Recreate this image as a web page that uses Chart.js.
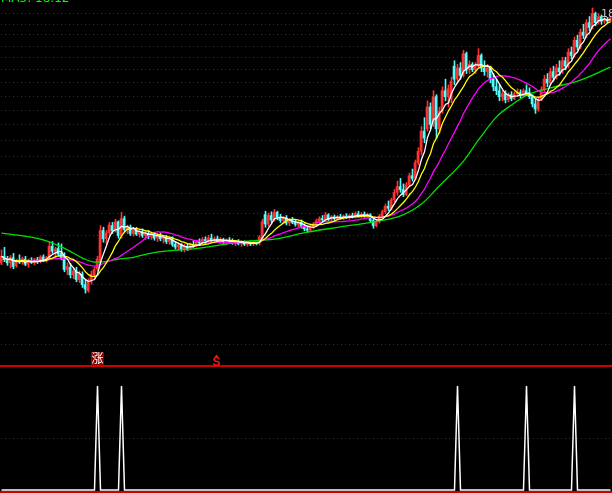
<!DOCTYPE html>
<html>
<head>
<meta charset="utf-8">
<script src="https://cdn.jsdelivr.net/npm/chart.js@4.4.1/dist/chart.umd.min.js"></script>
<style>
  html, body { margin: 0; padding: 0; background: #000; }
  #wrap { position: relative; width: 612px; height: 493px; background: #000; overflow: hidden; }
  canvas { position: absolute; left: 0; background: #000; }
  #price { top: 0; }
  #ind { top: 367px; }
</style>
</head>
<body>
<div id="wrap">
  <canvas id="price" width="612" height="367"></canvas>
  <canvas id="ind" width="612" height="126"></canvas>
</div>
<script>
// Daily bars, oldest first
const openP = [
  7.52,7.70,7.58,7.52,7.66,7.44,7.58,7.55,7.62,7.48,
  7.57,7.52,7.60,7.55,7.68,7.58,7.66,7.98,7.84,7.92,
  7.78,7.66,7.34,7.40,7.20,7.30,7.08,7.22,6.95,6.80,
  7.04,7.20,7.36,7.55,8.45,8.20,8.38,8.60,8.44,8.72,
  8.30,8.82,8.48,8.55,8.36,8.46,8.34,8.42,8.30,8.36,
  8.26,8.34,8.22,8.30,8.20,8.24,8.12,8.20,8.04,7.96,
  8.02,7.90,7.98,7.92,8.04,8.00,8.12,8.08,8.18,8.10,
  8.22,8.14,8.20,8.14,8.18,8.10,8.16,8.12,8.08,8.12,
  8.06,8.10,8.04,8.08,8.05,8.09,8.06,8.22,8.95,8.65,
  8.92,8.78,9.02,8.86,8.76,8.84,8.68,8.74,8.70,8.64,
  8.70,8.58,8.50,8.46,8.56,8.64,8.74,8.82,8.78,8.94,
  8.80,8.88,8.82,8.88,8.84,8.90,8.86,8.92,8.88,8.98,
  8.92,8.96,8.90,8.94,8.76,8.60,8.72,8.90,9.04,9.22,
  9.16,9.44,9.70,9.90,9.80,9.62,9.96,10.30,10.20,10.80,
  11.25,12.10,12.20,13.20,12.40,13.70,12.20,13.00,14.00,13.70,
  13.60,15.30,14.60,15.20,14.80,16.00,15.10,15.40,15.10,15.30,
  15.90,15.20,15.00,15.20,14.60,14.20,14.00,13.70,13.85,13.55,
  13.80,13.60,13.85,13.90,13.75,14.00,13.90,13.70,13.35,13.10,
  13.55,14.05,14.60,14.40,15.00,14.70,15.20,15.00,15.60,15.30,
  16.10,15.90,16.80,16.40,17.30,17.10,17.90,17.60,18.50,17.90,
  18.30,18.00,18.10,18.00
];
const highP = [
  7.88,7.95,7.70,7.72,7.78,7.62,7.74,7.68,7.70,7.62,
  7.66,7.64,7.67,7.72,7.74,7.70,8.10,8.12,7.96,8.08,
  8.05,7.80,7.52,7.50,7.38,7.40,7.30,7.28,7.08,7.10,
  7.30,7.40,7.70,8.60,8.55,8.45,8.70,8.70,8.80,8.75,
  9.02,8.90,8.62,8.62,8.52,8.55,8.48,8.50,8.42,8.44,
  8.40,8.40,8.36,8.38,8.30,8.30,8.26,8.26,8.12,8.08,
  8.06,8.04,8.06,8.08,8.14,8.16,8.20,8.24,8.26,8.30,
  8.34,8.26,8.28,8.24,8.22,8.20,8.24,8.20,8.16,8.18,
  8.14,8.14,8.12,8.14,8.12,8.16,8.30,8.80,9.06,9.00,
  9.04,9.12,9.06,8.96,8.90,8.92,8.82,8.86,8.80,8.74,
  8.78,8.66,8.60,8.62,8.70,8.80,8.88,8.92,9.02,8.98,
  8.92,8.94,8.92,8.96,8.94,8.98,8.96,9.00,9.04,9.06,
  9.02,9.04,9.00,8.98,8.84,8.80,8.96,9.10,9.30,9.40,
  9.50,9.80,10.10,10.20,10.00,10.05,10.40,10.55,10.90,11.40,
  12.30,12.70,13.50,13.40,14.00,13.80,13.20,14.20,14.60,14.30,
  14.70,15.60,15.40,15.50,16.20,16.10,15.60,15.50,15.50,16.30,
  16.00,15.60,15.40,15.30,14.90,14.60,14.30,14.00,14.00,13.90,
  13.95,13.95,14.10,14.05,14.10,14.30,14.15,13.80,13.60,13.70,
  14.20,14.80,14.90,15.20,15.30,15.40,15.60,15.80,15.80,16.30,
  16.40,17.00,17.10,17.50,17.80,18.10,18.30,18.88,18.60,18.50,
  18.40,18.30,18.25,18.30
];
const lowP = [
  7.47,7.55,7.45,7.38,7.36,7.40,7.50,7.48,7.44,7.40,
  7.50,7.46,7.50,7.52,7.55,7.54,7.62,7.78,7.66,7.70,
  7.60,7.28,7.20,7.12,7.10,7.02,7.00,6.88,6.74,6.76,
  6.96,7.10,7.30,7.50,8.10,8.05,8.30,8.36,8.40,8.22,
  8.22,8.40,8.35,8.30,8.28,8.30,8.25,8.24,8.18,8.20,
  8.18,8.16,8.12,8.14,8.08,8.06,8.04,7.98,7.90,7.86,
  7.84,7.82,7.86,7.88,7.96,7.96,8.02,8.04,8.06,8.08,
  8.10,8.08,8.10,8.06,8.06,8.04,8.08,8.04,8.00,8.02,
  7.98,8.00,7.98,8.00,8.00,8.02,8.02,8.18,8.55,8.58,
  8.70,8.74,8.78,8.70,8.68,8.62,8.60,8.66,8.58,8.56,
  8.52,8.44,8.40,8.42,8.50,8.58,8.68,8.72,8.74,8.76,
  8.74,8.76,8.78,8.80,8.78,8.82,8.80,8.84,8.84,8.86,
  8.84,8.86,8.84,8.70,8.52,8.56,8.68,8.84,8.98,9.08,
  9.10,9.36,9.60,9.70,9.55,9.58,9.90,10.10,10.15,10.70,
  11.10,11.60,12.10,12.20,12.30,11.80,12.00,12.90,13.50,13.20,
  13.40,14.30,14.40,14.60,14.70,14.90,14.90,15.00,14.90,15.20,
  15.00,14.80,14.70,14.40,14.00,13.80,13.50,13.50,13.40,13.45,
  13.50,13.55,13.70,13.65,13.70,13.80,13.60,13.20,12.90,13.00,
  13.50,13.90,14.20,14.30,14.50,14.60,14.80,14.90,15.10,15.20,
  15.70,15.80,16.20,16.30,16.90,16.95,17.40,17.50,17.70,17.80,
  17.80,17.85,17.90,17.95
];
const closeP = [
  7.70,7.60,7.52,7.66,7.42,7.58,7.55,7.63,7.48,7.57,
  7.53,7.60,7.55,7.68,7.58,7.66,7.98,7.84,7.90,7.76,
  7.66,7.34,7.42,7.20,7.30,7.08,7.22,6.95,6.84,7.04,
  7.22,7.34,7.62,8.45,8.20,8.38,8.62,8.44,8.72,8.30,
  8.82,8.48,8.55,8.36,8.46,8.34,8.42,8.30,8.36,8.26,
  8.34,8.22,8.30,8.20,8.24,8.12,8.20,8.04,7.96,8.02,
  7.90,7.98,7.92,8.04,8.00,8.12,8.08,8.18,8.10,8.22,
  8.14,8.20,8.14,8.18,8.10,8.16,8.12,8.08,8.12,8.06,
  8.10,8.04,8.08,8.05,8.09,8.06,8.25,8.72,8.65,8.92,
  8.78,9.02,8.86,8.76,8.84,8.68,8.74,8.70,8.64,8.70,
  8.58,8.50,8.46,8.56,8.64,8.74,8.82,8.78,8.94,8.80,
  8.88,8.82,8.88,8.84,8.90,8.86,8.92,8.88,8.98,8.92,
  8.96,8.90,8.94,8.76,8.60,8.72,8.90,9.04,9.22,9.16,
  9.44,9.70,9.90,9.80,9.62,9.96,10.30,10.20,10.80,11.25,
  12.10,11.80,13.20,12.40,13.70,12.20,13.00,14.00,13.70,14.10,
  14.50,14.60,15.20,14.80,16.00,15.10,15.40,15.10,15.30,15.90,
  15.20,15.00,15.20,14.60,14.20,14.00,13.70,13.85,13.55,13.80,
  13.60,13.85,13.90,13.75,14.00,13.90,13.70,13.35,13.10,13.55,
  14.05,14.60,14.40,15.00,14.70,15.20,15.00,15.60,15.30,16.10,
  15.90,16.80,16.40,17.30,17.10,17.90,17.60,18.50,17.90,18.30,
  18.00,18.10,18.00,18.20
];

// Long moving average, sampled at these bars
const longMaBars = [0,10,16,22,27,31,33,39,44,50,66,80,91,102,113,124,133,140,146,154,159,165,170,176,183,193,203];
const longMaVals = [8.37,8.25,8.11,7.88,7.65,7.54,7.54,7.62,7.67,7.79,7.93,8.11,8.19,8.40,8.56,8.72,8.91,9.30,9.93,10.86,11.72,12.74,13.30,13.84,14.14,14.55,15.25];

// Horizontal price grid
const gridPrices = [5.60,6.28,6.96,7.64,8.32,9.00,9.68,10.36,11.04,11.72,12.40,13.08,13.76,14.44,15.12,15.80,16.48,17.16,17.84,18.52];

// Signal bars for the lower panel, and the markers above the divider
const signalBars = [32, 40, 152, 175, 191];
const riseMarkBar = 32;
const riseMarkText = '涨';
const sMarkBar = 72;
const sMarkText = 'S';

const N = closeP.length;
const idx = closeP.map((_, i) => i);
const UP = '#ff3232', DOWN = '#54fcfc';
const barColor = idx.map(i => closeP[i] >= openP[i] ? UP : DOWN);

function movingAverage(src, n) {
  return src.map((_, i) => {
    const s = Math.max(0, i - n + 1);
    let sum = 0;
    for (let k = s; k <= i; k++) sum += src[k];
    return sum / (i - s + 1);
  });
}
const ma5 = movingAverage(closeP, 5);
const ma10 = movingAverage(closeP, 10);
const ma20 = movingAverage(closeP, 20);

const maxHigh = Math.max(...highP);
const maxHighBar = highP.indexOf(maxHigh);

function dotted(ctx, y, x0, x1) {
  ctx.save();
  ctx.strokeStyle = '#a80000';
  ctx.lineWidth = 1;
  ctx.setLineDash([1, 3]);
  ctx.beginPath();
  ctx.moveTo(x0, y);
  ctx.lineTo(x1, y);
  ctx.stroke();
  ctx.restore();
}

const priceDecor = {
  id: 'priceDecor',
  beforeDatasetsDraw(chart) {
    const { ctx, chartArea: a, scales } = chart;
    gridPrices.forEach(p => {
      const py = Math.round(scales.y.getPixelForValue(p)) + 0.5;
      dotted(ctx, py, a.left + 1, a.right);
    });
  },
  afterDatasetsDraw(chart) {
    const { ctx, scales } = chart;
    const xs = scales.xw;
    ctx.save();
    // panel divider
    ctx.fillStyle = '#d00000';
    ctx.fillRect(0, 365, 612, 2);

    // rise marker: white character on a dark red tile
    const rx = xs.getPixelForValue(riseMarkBar);
    ctx.fillStyle = '#8c0000';
    ctx.fillRect(Math.round(rx - 6.5), 352, 13, 13);
    ctx.fillStyle = '#ffffff';
    ctx.font = '12px "Noto Sans CJK SC"';
    ctx.textAlign = 'center';
    ctx.textBaseline = 'middle';
    ctx.fillText(riseMarkText, rx, 358.5);

    // S marker with its small arrow head
    const sx = xs.getPixelForValue(sMarkBar) - 1;
    ctx.fillStyle = '#f01818';
    ctx.beginPath();
    ctx.moveTo(sx, 354.5);
    ctx.lineTo(sx + 2.5, 357.5);
    ctx.lineTo(sx - 2.5, 357.5);
    ctx.closePath();
    ctx.fill();
    ctx.font = 'bold 12px "Liberation Sans"';
    ctx.textBaseline = 'alphabetic';
    ctx.fillText(sMarkText, sx, 366);

    // highest price tag
    ctx.fillStyle = '#c0c0c0';
    ctx.font = '11px "DejaVu Sans"';
    ctx.textAlign = 'left';
    ctx.textBaseline = 'middle';
    ctx.fillText(maxHigh.toFixed(2), xs.getPixelForValue(maxHighBar) + 8.5,
                 scales.y.getPixelForValue(maxHigh) + 6);

    // moving average header along the top edge
    ctx.fillStyle = '#00ff00';
    ctx.font = '12px "DejaVu Sans"';
    ctx.textBaseline = 'alphabetic';
    ctx.fillText('MA5: ' + ma5[N - 1].toFixed(2), 1, 2);
    ctx.restore();
  }
};

const common = {
  responsive: false,
  animation: false,
  events: [],
  plugins: { legend: { display: false }, tooltip: { enabled: false } }
};

new Chart(document.getElementById('price'), {
  data: {
    datasets: [
      {
        type: 'line', label: 'MA5', xAxisID: 'xw', order: 1,
        data: idx.map(i => ({ x: i, y: ma5[i] })),
        borderColor: '#ffffff', borderWidth: 1.3, pointRadius: 0, tension: 0
      },
      {
        type: 'line', label: 'MA10', xAxisID: 'xw', order: 2,
        data: idx.map(i => ({ x: i, y: ma10[i] })),
        borderColor: '#ffff00', borderWidth: 1.3, pointRadius: 0, tension: 0
      },
      {
        type: 'line', label: 'MA20', xAxisID: 'xw', order: 3,
        data: idx.map(i => ({ x: i, y: ma20[i] })),
        borderColor: '#ff00ff', borderWidth: 1.3, pointRadius: 0, tension: 0
      },
      {
        type: 'line', label: 'MA60', xAxisID: 'xw', order: 4,
        data: longMaBars.map((b, k) => ({ x: b, y: longMaVals[k] })),
        borderColor: '#00e000', borderWidth: 1.3, pointRadius: 0,
        cubicInterpolationMode: 'monotone'
      },
      {
        type: 'bar', label: 'body', xAxisID: 'x', order: 8, grouped: false,
        data: idx.map(i => ({ x: i, y: [Math.min(openP[i], closeP[i]), Math.max(openP[i], closeP[i])] })),
        backgroundColor: barColor, borderWidth: 0, barThickness: 2, minBarLength: 1
      },
      {
        type: 'bar', label: 'range', xAxisID: 'xw', order: 9, grouped: false,
        data: idx.map(i => ({ x: i, y: [lowP[i], highP[i]] })),
        backgroundColor: barColor, borderWidth: 0, barThickness: 1
      }
    ]
  },
  options: {
    ...common,
    layout: { padding: 0 },
    scales: {
      x: { type: 'linear', min: -1 / 3, max: N - 1 / 3, offset: false, bounds: 'data', display: false },
      xw: { type: 'linear', min: -0.5, max: N - 0.5, offset: false, bounds: 'data', display: false },
      y: { type: 'logarithmic', min: 5.161, max: 19.43, bounds: 'data', display: false }
    }
  },
  plugins: [priceDecor]
});

const indDecor = {
  id: 'indDecor',
  beforeDatasetsDraw(chart) {
    const { ctx, chartArea: a, scales } = chart;
    dotted(ctx, Math.round(scales.y.getPixelForValue(0.5)) + 0.5, a.left + 1, a.right);
  },
  afterDatasetsDraw(chart) {
    const { ctx } = chart;
    ctx.save();
    ctx.fillStyle = '#d00000';
    ctx.fillRect(0, 124, 612, 2);
    ctx.restore();
  }
};

new Chart(document.getElementById('ind'), {
  type: 'line',
  data: {
    datasets: [{
      label: 'signal',
      data: idx.map(i => ({ x: i, y: signalBars.includes(i) ? 1 : 0 })),
      borderColor: '#ffffff', borderWidth: 1.5, pointRadius: 0, tension: 0, clip: 4
    }]
  },
  options: {
    ...common,
    layout: { padding: { top: 0, left: 0, right: 0, bottom: 3 } },
    scales: {
      x: { type: 'linear', min: -0.5, max: N - 0.5, offset: false, bounds: 'data', display: false },
      y: { type: 'linear', min: 0, max: 1.1827, bounds: 'data', display: false }
    }
  },
  plugins: [indDecor]
});
</script>
</body>
</html>
